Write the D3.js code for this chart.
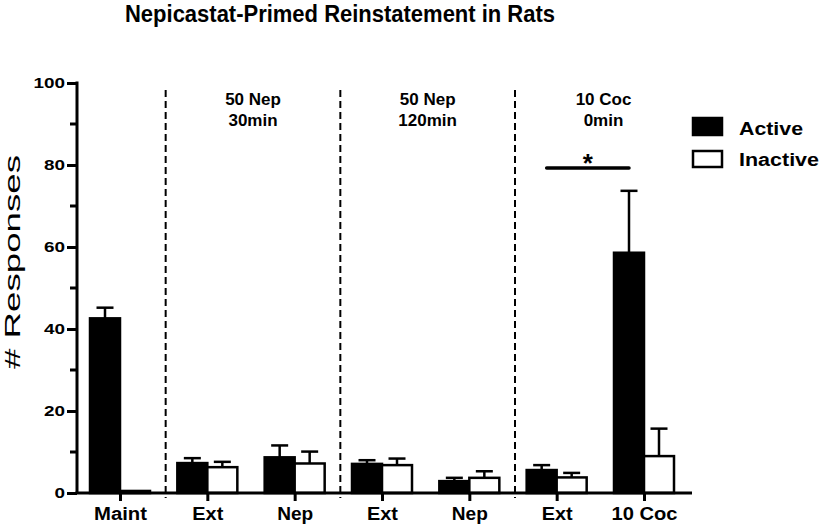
<!DOCTYPE html>
<html><head><meta charset="utf-8">
<script src="https://cdn.jsdelivr.net/npm/d3@7"></script>
<style>
html,body{margin:0;padding:0;background:#fff;}
svg text{font-family:"Liberation Sans",Arial,Helvetica,sans-serif;}
</style></head>
<body><svg id="c" width="822" height="525"></svg>
<script>
const categories = ["Maint","Ext","Nep","Ext","Nep","Ext","10 Coc"];
const activeMean = [42.6, 7.3, 8.7, 7.1, 2.9, 5.6, 58.6];
const activeErr = [2.6, 1.2, 2.9, 0.9, 0.8, 1.2, 15.1];
const inactiveMean = [0.5, 6.3, 7.2, 6.8, 3.7, 3.8, 9.0];
const inactiveErr = [0, 1.3, 2.9, 1.6, 1.6, 1.1, 6.7];
const yTicks = [0, 20, 40, 60, 80, 100];
const yMinorTicks = [10, 30, 50, 70, 90];
const groupLabels = [["50 Nep","30min"],["50 Nep","120min"],["10 Coc","0min"]];
const seriesNames = ["Active","Inactive"];
const titleText = "Nepicastat-Primed Reinstatement in Rats";
const yLabel = "# Responses";

const svg = d3.select("#c");
const axX0 = 77, axX1 = 692;
const y = d3.scaleLinear().domain([0,100]).range([493,83]);
const x = d3.scalePoint().domain(d3.range(categories.length)).range([120,644]);
const bw = 30;

// title
svg.append("text").attr("x",340).attr("y",22).attr("text-anchor","middle")
  .attr("font-weight","bold").attr("font-size",23)
  .attr("textLength",430).attr("lengthAdjust","spacingAndGlyphs").text(titleText);

// y label
svg.append("text").attr("transform","translate(20,262) rotate(-90)")
  .attr("text-anchor","middle").attr("font-size",22)
  .attr("textLength",214).attr("lengthAdjust","spacingAndGlyphs").text(yLabel);

// dashed separators
const seps = [0,2,4].map(i => (x(i)+x(i+1))/2 + 2);
svg.selectAll(".sep").data(seps).enter().append("line")
  .attr("x1",d=>d).attr("x2",d=>d).attr("y1",90).attr("y2",498)
  .attr("stroke","#000").attr("stroke-width",2).attr("stroke-dasharray","7,4");

// group labels
const gb = [seps[0], seps[1], seps[2], axX1];
groupLabels.forEach((g,i)=>{
  const cx = (gb[i]+gb[i+1])/2;
  g.forEach((t,j)=>{
    svg.append("text").attr("x",cx).attr("y",105+j*21).attr("text-anchor","middle")
      .attr("font-weight","bold").attr("font-size",17).text(t);
  });
});

// bars
const lw = 2.5;
categories.forEach((c,i)=>{
  const cx = x(i);
  // active
  svg.append("line").attr("x1",cx-bw/2).attr("x2",cx-bw/2)
    .attr("y1",y(activeMean[i])).attr("y2",y(activeMean[i]+activeErr[i]))
    .attr("stroke","#000").attr("stroke-width",lw);
  svg.append("line").attr("x1",cx-bw/2-8.5).attr("x2",cx-bw/2+8.5)
    .attr("y1",y(activeMean[i]+activeErr[i])).attr("y2",y(activeMean[i]+activeErr[i]))
    .attr("stroke","#000").attr("stroke-width",lw);
  svg.append("rect").attr("x",cx-bw).attr("width",bw)
    .attr("y",y(activeMean[i])).attr("height",y(0)-y(activeMean[i]))
    .attr("fill","#000").attr("stroke","#000").attr("stroke-width",lw);
  // inactive
  if (inactiveErr[i] > 0) {
    svg.append("line").attr("x1",cx+bw/2).attr("x2",cx+bw/2)
      .attr("y1",y(inactiveMean[i])).attr("y2",y(inactiveMean[i]+inactiveErr[i]))
      .attr("stroke","#000").attr("stroke-width",lw);
    svg.append("line").attr("x1",cx+bw/2-8.5).attr("x2",cx+bw/2+8.5)
      .attr("y1",y(inactiveMean[i]+inactiveErr[i])).attr("y2",y(inactiveMean[i]+inactiveErr[i]))
      .attr("stroke","#000").attr("stroke-width",lw);
  }
  svg.append("rect").attr("x",cx).attr("width",bw)
    .attr("y",y(inactiveMean[i])).attr("height",y(0)-y(inactiveMean[i]))
    .attr("fill","#fff").attr("stroke","#000").attr("stroke-width",lw);
});

// y axis
const yAxis = d3.axisLeft(y).tickValues(yTicks).tickSize(10).tickPadding(2);
const gy = svg.append("g").attr("transform",`translate(${axX0},0)`).call(yAxis);
gy.select(".domain").attr("d",`M0,${y(100)-1.5}V${y(0)}`).attr("stroke-width",3);
gy.selectAll(".tick line").attr("stroke-width",3);
gy.selectAll(".tick text").attr("font-size",15).attr("font-weight","bold")
  .attr("font-family","Liberation Sans, Arial, sans-serif").attr("fill","#000")
  .each(function(d){ d3.select(this).attr("textLength", String(d).length*10.5).attr("lengthAdjust","spacingAndGlyphs"); });
svg.selectAll(".minor").data(yMinorTicks).enter().append("line")
  .attr("x1",axX0-7).attr("x2",axX0).attr("y1",d=>y(d)).attr("y2",d=>y(d))
  .attr("stroke","#000").attr("stroke-width",3);

// x axis
svg.append("line").attr("x1",axX0-1.5).attr("x2",axX1).attr("y1",y(0)).attr("y2",y(0))
  .attr("stroke","#000").attr("stroke-width",3);
const xAxis = d3.axisBottom(x).tickSize(8).tickPadding(6).tickFormat(i=>categories[i]);
const gx = svg.append("g").attr("transform",`translate(0,${y(0)})`).call(xAxis);
gx.select(".domain").remove();
gx.selectAll(".tick line").attr("stroke-width",3);
const catW = {"Maint":53,"Ext":31,"Nep":36,"10 Coc":66};
gx.selectAll(".tick text").attr("font-size",18).attr("font-weight","bold")
  .attr("font-family","Liberation Sans, Arial, sans-serif").attr("fill","#000")
  .each(function(i){ d3.select(this).attr("textLength",catW[categories[i]]).attr("lengthAdjust","spacingAndGlyphs"); });

// significance
svg.append("line").attr("x1",x(5)-10).attr("x2",x(6)-15).attr("y1",168).attr("y2",168)
  .attr("stroke","#000").attr("stroke-width",3.5).attr("stroke-linecap","round");
svg.append("text").attr("x",(x(5)-10+x(6)-15)/2).attr("y",172).attr("text-anchor","middle")
  .attr("font-weight","bold").attr("font-size",26).text("*");

// legend
const leg = svg.append("g");
seriesNames.forEach((s,i)=>{
  const yy = 118 + i*32;
  leg.append("rect").attr("x",693).attr("y",yy+ (i?1:0)).attr("width",29).attr("height",i?16:17)
    .attr("fill", i? "#fff":"#000").attr("stroke","#000").attr("stroke-width",2.5);
  leg.append("text").attr("x",739).attr("y",135+i*31).attr("font-weight","bold").attr("font-size",18)
    .attr("textLength", i?80:64).attr("lengthAdjust","spacingAndGlyphs").text(s);
});
</script></body></html>
